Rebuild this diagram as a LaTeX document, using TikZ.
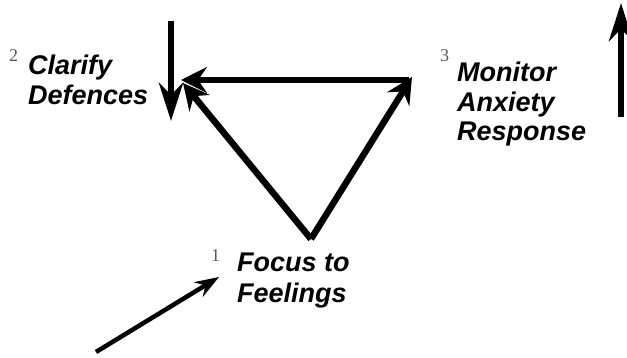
\documentclass[tikz,border=0pt]{standalone}
\usepackage{fontspec}
\setmainfont{Liberation Sans}
\newfontfamily\digitfont{Liberation Serif}
\usetikzlibrary{arrows.meta}
\begin{document}
\begin{tikzpicture}[x=1pt,y=-1pt,
  lbl/.style={anchor=base west,inner sep=0pt,font=\fontsize{27}{30}\selectfont\bfseries\itshape},
  num/.style={anchor=base west,inner sep=0pt,text=black!65,font=\fontsize{18}{18}\selectfont\digitfont},
  big/.style={line width=6.5pt,-{Stealth[length=38pt,width=24pt,inset=12pt]}},
  tri/.style={line width=6.5pt,-{Stealth[length=26pt,width=26pt,inset=9pt]}},
  small/.style={line width=4.5pt,-{Stealth[length=24pt,width=17pt,inset=8pt]}}]
\useasboundingbox (0,0) rectangle (627,358);
% texts
\node[num] (n2) at (9,62) {2};
\node[lbl] (c1) at (28,75) {Clarify};
\node[lbl] (c2) at (28,105) {Defences};
\node[num] (n3) at (440,62) {3};
\node[lbl] (m1) at (457,82) {Monitor};
\node[lbl] (m2) at (457,112) {Anxiety};
\node[lbl] (m3) at (457,141) {Response};
\node[num] (n1) at (211,262) {1};
\node[lbl] (f1) at (237,272) {Focus to};
\node[lbl] (f2) at (237,302) {Feelings};
% triangle
\coordinate (A) at (311,239);
\coordinate (B) at (409,80);
\coordinate (Btip) at (412,77);
\coordinate (C) at (181,80);
\coordinate (Ctip) at (183,83);
\draw[tri] (B) -- (C);
\draw[tri] (A) -- (Ctip);
\draw[tri] (A) -- (Btip);
% side arrows
\coordinate (d1) at (171,21);
\coordinate (d2) at (171,121);
\draw[big] (d1) -- (d2);
\coordinate (u1) at (621,117);
\coordinate (u2) at (621,3);
\draw[big] (u1) -- (u2);
\coordinate (s1) at (96,352);
\coordinate (s2) at (219,277);
\draw[small] (s1) -- (s2);
\end{tikzpicture}
\end{document}
